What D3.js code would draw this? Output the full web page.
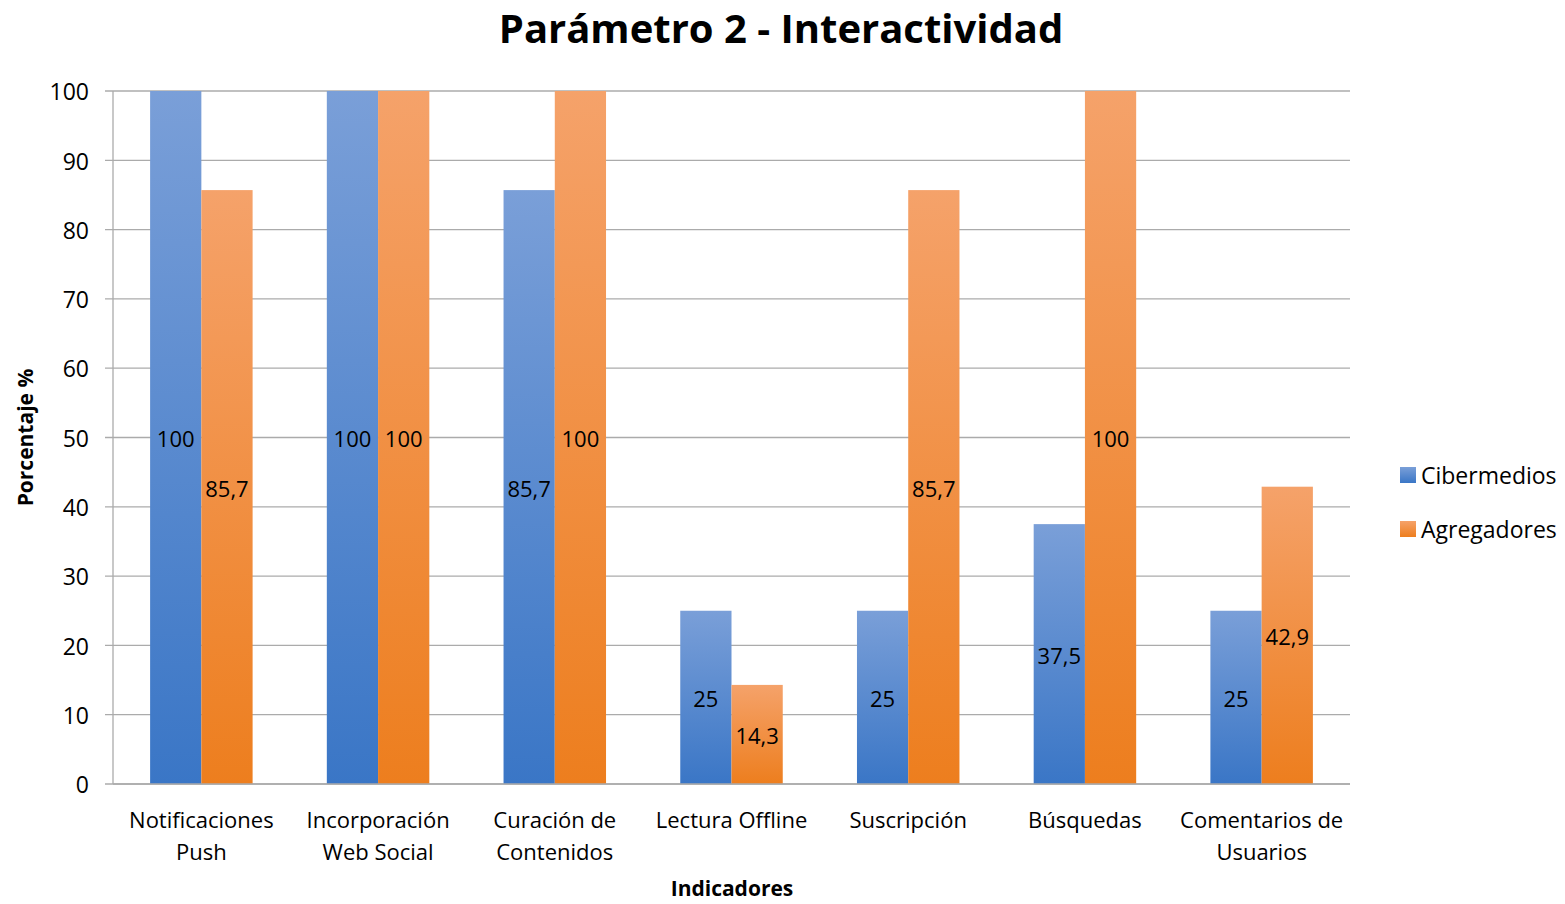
<!DOCTYPE html>
<html>
<head>
<meta charset="utf-8">
<script src="https://cdn.jsdelivr.net/npm/d3@7"></script>
<style>
  body { margin: 0; background: #fff; }
  svg { font-family: "Open Sans", sans-serif; }
</style>
</head>
<body>
<div id="chart"></div>
<script>
let w = 1565;
let h = 904;

// data
const categories = [
  ["Notificaciones", "Push"],
  ["Incorporación", "Web Social"],
  ["Curación de", "Contenidos"],
  ["Lectura Offline"],
  ["Suscripción"],
  ["Búsquedas"],
  ["Comentarios de", "Usuarios"]
];
const seriesNames = ["Cibermedios", "Agregadores"];
const cibermedios = [100, 100, 85.7, 25, 25, 37.5, 25];
const agregadores = [85.7, 100, 100, 14.3, 85.7, 100, 42.9];
const yTicks = [0, 10, 20, 30, 40, 50, 60, 70, 80, 90, 100];

const seriesValues = [cibermedios, agregadores];
const colors = [
  { top: "#7A9FD8", bottom: "#3A76C6" },
  { top: "#F5A26A", bottom: "#ED7E1E" }
];

const margin = { left: 113, right: 215, top: 91, bottom: 120 };

var svg = d3.select("#chart").append("svg").attr("width", w).attr("height", h);

// gradients
const defs = svg.append("defs");
colors.forEach(function (c, i) {
  const g = defs.append("linearGradient")
    .attr("id", "grad" + i)
    .attr("x1", 0).attr("y1", 0).attr("x2", 0).attr("y2", 1);
  g.append("stop").attr("offset", "0%").attr("stop-color", c.top);
  g.append("stop").attr("offset", "100%").attr("stop-color", c.bottom);
});

const x0 = d3.scaleBand()
  .domain(d3.range(categories.length))
  .range([margin.left, w - margin.right])
  .paddingInner(0.42)
  .paddingOuter(0.21);

const x1 = d3.scaleBand()
  .domain(d3.range(seriesNames.length))
  .range([0, x0.bandwidth()]);

const y = d3.scaleLinear().domain([0, 100]).range([h - margin.bottom, margin.top]);

// gridlines
svg.append("g")
  .selectAll("line")
  .data(yTicks)
  .enter()
  .append("line")
  .attr("x1", margin.left - 8)
  .attr("x2", w - margin.right)
  .attr("y1", d => y(d))
  .attr("y2", d => y(d))
  .attr("stroke", "#ABABAB")
  .attr("stroke-width", 1.3);

// y axis line
svg.append("line")
  .attr("x1", margin.left).attr("x2", margin.left)
  .attr("y1", y(100)).attr("y2", y(0))
  .attr("stroke", "#ABABAB").attr("stroke-width", 1.3);

// y tick labels
svg.append("g")
  .selectAll("text")
  .data(yTicks)
  .enter()
  .append("text")
  .attr("x", margin.left - 24)
  .attr("y", d => y(d))
  .attr("dy", "0.4em")
  .attr("text-anchor", "end")
  .attr("font-size", 23)
  .attr("fill", "#000")
  .text(d => d);

// bars
seriesValues.forEach(function (vals, s) {
  const g = svg.append("g");
  g.selectAll("rect")
    .data(vals)
    .enter()
    .append("rect")
    .attr("x", (d, i) => x0(i) + x1(s))
    .attr("width", x1.bandwidth())
    .attr("y", d => y(d))
    .attr("height", d => y(0) - y(d))
    .attr("fill", "url(#grad" + s + ")");

  g.selectAll("text")
    .data(vals)
    .enter()
    .append("text")
    .attr("x", (d, i) => x0(i) + x1(s) + x1.bandwidth() / 2)
    .attr("y", d => (y(d) + y(0)) / 2)
    .attr("dy", "0.45em")
    .attr("text-anchor", "middle")
    .attr("font-size", 22)
    .attr("fill", "#000")
    .text(d => String(d).replace(".", ","));
});

// x axis baseline
svg.append("line")
  .attr("x1", margin.left).attr("x2", w - margin.right)
  .attr("y1", y(0)).attr("y2", y(0))
  .attr("stroke", "#ABABAB").attr("stroke-width", 1.3);

// category labels
svg.append("g")
  .selectAll("text")
  .data(categories)
  .enter()
  .append("text")
  .attr("x", (d, i) => x0(i) + x0.bandwidth() / 2)
  .attr("y", 828)
  .attr("text-anchor", "middle")
  .attr("font-size", 22)
  .attr("fill", "#000")
  .each(function (d) {
    const t = d3.select(this);
    d.forEach(function (line, k) {
      t.append("tspan")
        .attr("x", t.attr("x"))
        .attr("dy", k === 0 ? 0 : 32)
        .text(line);
    });
  });

// title
svg.append("text")
  .attr("x", 781)
  .attr("y", 43)
  .attr("text-anchor", "middle")
  .attr("font-size", 40)
  .attr("font-weight", "bold")
  .text("Parámetro 2 - Interactividad");

// axis titles
svg.append("text")
  .attr("x", 732)
  .attr("y", 896)
  .attr("text-anchor", "middle")
  .attr("font-size", 21)
  .attr("font-weight", "bold")
  .text("Indicadores");

svg.append("text")
  .attr("transform", "translate(33," + ((y(0) + y(100)) / 2) + ") rotate(-90)")
  .attr("text-anchor", "middle")
  .attr("font-size", 21)
  .attr("font-weight", "bold")
  .text("Porcentaje %");

// legend
const legend = svg.append("g")
  .selectAll("g")
  .data(seriesNames)
  .enter()
  .append("g")
  .attr("transform", (d, i) => "translate(1400," + (475 + i * 54) + ")");

legend.append("rect")
  .attr("x", 0).attr("y", -8)
  .attr("width", 16).attr("height", 16)
  .attr("fill", (d, i) => "url(#grad" + i + ")");

legend.append("text")
  .attr("x", 21)
  .attr("y", 0)
  .attr("dy", "0.37em")
  .attr("font-size", 23)
  .text(d => d);
</script>
</body>
</html>
